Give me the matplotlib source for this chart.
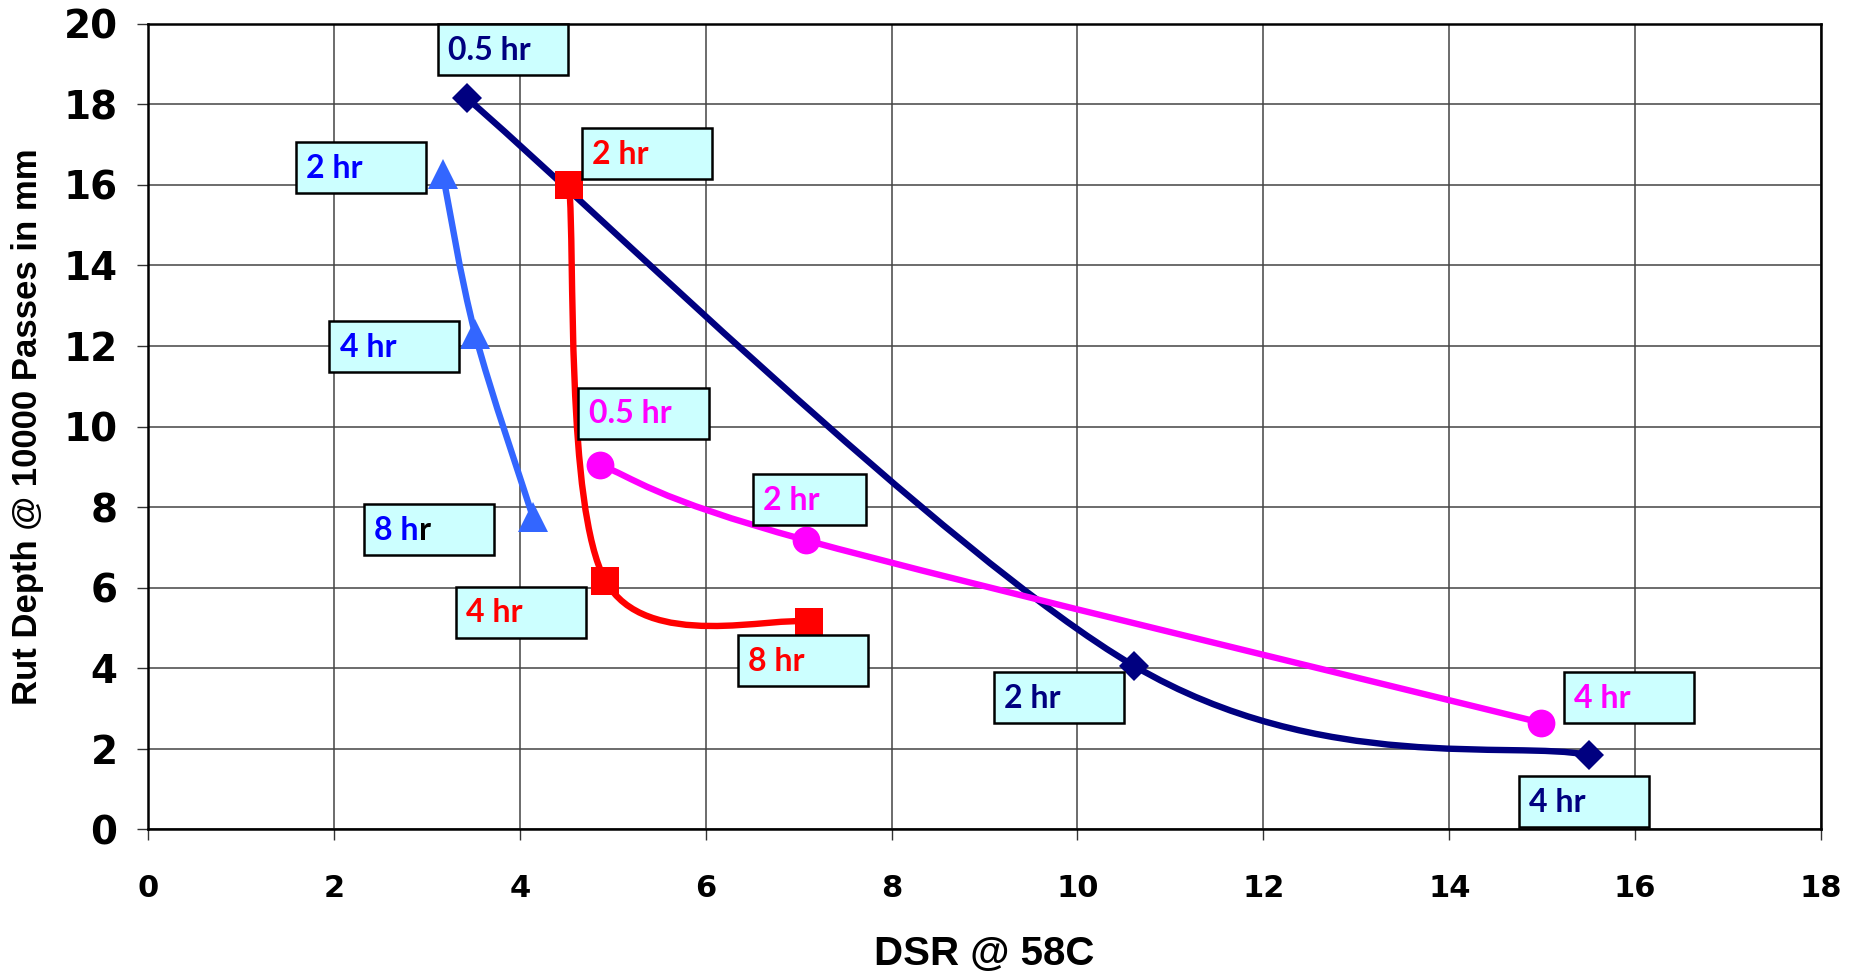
import numpy as np
import matplotlib
matplotlib.use("Agg")
import matplotlib.pyplot as plt
from matplotlib.path import Path
from matplotlib.patches import PathPatch, Rectangle

# data (DSR @ 58C, rut depth in mm)
navy_x = [3.43, 10.61, 15.50]
navy_y = [18.15, 4.06, 1.85]
red_x = [4.53, 4.92, 7.11]
red_y = [16.0, 6.18, 5.15]
blue_x = [3.17, 3.52, 4.14]
blue_y = [16.28, 12.29, 7.76]
mag_x = [4.86, 7.08, 14.99]
mag_y = [9.05, 7.18, 2.65]

x_ticks = list(range(0, 19, 2))
y_ticks = list(range(0, 21, 2))

# (text, text colour, box left, box top, box width) in data units
labels = [
    ("0.5 hr", "#000080", 3.12, 20.0, 1.40),
    ("2 hr", "#000080", 9.10, 3.91, 1.40),
    ("4 hr", "#000080", 14.75, 1.32, 1.40),
    ("2 hr", "#FF0000", 4.67, 17.41, 1.40),
    ("4 hr", "#FF0000", 3.31, 6.03, 1.40),
    ("8 hr", "#FF0000", 6.35, 4.82, 1.40),
    ("2 hr", "#0000FF", 1.59, 17.06, 1.40),
    ("4 hr", "#0000FF", 1.95, 12.62, 1.40),
    ("8 hr", "#0000FF", 2.32, 8.08, 1.40),
    ("0.5 hr", "#FF00FF", 4.63, 10.97, 1.40),
    ("2 hr", "#FF00FF", 6.51, 8.82, 1.21),
    ("4 hr", "#FF00FF", 15.23, 3.91, 1.40),
]
BOX_H = 1.27


def smooth_path(xs, ys):
    # Excel style smoothed line: Catmull-Rom segments as cubic Beziers
    pts = np.column_stack([xs, ys]).astype(float)
    n = len(pts)
    verts = [pts[0]]
    codes = [Path.MOVETO]
    for i in range(n - 1):
        p0 = pts[max(i - 1, 0)]
        p1 = pts[i]
        p2 = pts[i + 1]
        p3 = pts[min(i + 2, n - 1)]
        verts += [p1 + (p2 - p0) / 6, p2 - (p3 - p1) / 6, p2]
        codes += [Path.CURVE4] * 3
    return Path(verts, codes)


def series(ax, xs, ys, color, marker, ms):
    ax.add_patch(PathPatch(smooth_path(xs, ys), fill=False, edgecolor=color,
                           lw=4.6, capstyle="butt", joinstyle="round", zorder=3))
    ax.plot(xs, ys, linestyle="none", marker=marker, ms=ms, color=color,
            markeredgewidth=0, zorder=4)


fig = plt.figure(figsize=(18.58, 9.73), dpi=100)
ax = fig.add_axes([0.0797, 0.1475, 0.9004, 0.8281])

series(ax, navy_x, navy_y, "#000080", "D", 15.5)
series(ax, red_x, red_y, "#FF0000", "s", 20)
series(ax, blue_x, blue_y, "#3366FF", "^", 21)
series(ax, mag_x, mag_y, "#FF00FF", "o", 20)

lab_font = dict(family=["Lato", "DejaVu Sans"], weight="bold", fontsize=23)
for text, col, x0, y0, w in labels:
    ax.add_patch(Rectangle((x0, y0 - BOX_H), w, BOX_H, facecolor="#CCFFFF",
                           edgecolor="black", lw=1.8, zorder=5, clip_on=False))
    if text == "8 hr" and col == "#0000FF":
        # the last letter of this label is black in the original
        head = ax.text(x0 + 0.11, y0 - 0.70 * BOX_H, "8 h", color=col,
                       va="baseline", ha="left", zorder=6, **lab_font)
        ax.annotate("r", xy=(1, 0), xycoords=head, xytext=(0.3, 0),
                    textcoords="offset points", color="black",
                    va="bottom", ha="left", zorder=6, **lab_font)
    else:
        ax.text(x0 + 0.11, y0 - 0.70 * BOX_H, text, color=col,
                va="baseline", ha="left", zorder=6, **lab_font)

ax.set_xlim(0, 18)
ax.set_ylim(0, 20)
ax.set_xticks(x_ticks)
ax.set_yticks(y_ticks)
ax.grid(True, color="#444444", lw=1.1)
ax.set_axisbelow(True)
for s in ax.spines.values():
    s.set_linewidth(1.8)
    s.set_color("black")

ax.tick_params(axis="both", direction="out", length=8, width=1, color="#333333")
ax.tick_params(axis="x", pad=24)
ax.tick_params(axis="y", pad=14)
for t in ax.get_xticklabels():
    t.set_fontfamily("DejaVu Sans")
    t.set_fontweight("bold")
    t.set_fontsize(22)
for t in ax.get_yticklabels():
    t.set_fontfamily("DejaVu Sans")
    t.set_fontweight("bold")
    t.set_fontsize(28)

ax.set_xlabel("DSR @ 58C", fontsize=29, fontweight="bold",
              family=["Liberation Sans", "DejaVu Sans"])
ax.xaxis.set_label_coords(0.5, -0.131)
ax.set_ylabel("Rut Depth @ 10000 Passes in mm", fontsize=25, fontweight="bold",
              family=["Liberation Sans", "DejaVu Sans"])
ax.yaxis.set_label_coords(-0.062, 0.5)

fig.savefig("out.png", dpi=100)
